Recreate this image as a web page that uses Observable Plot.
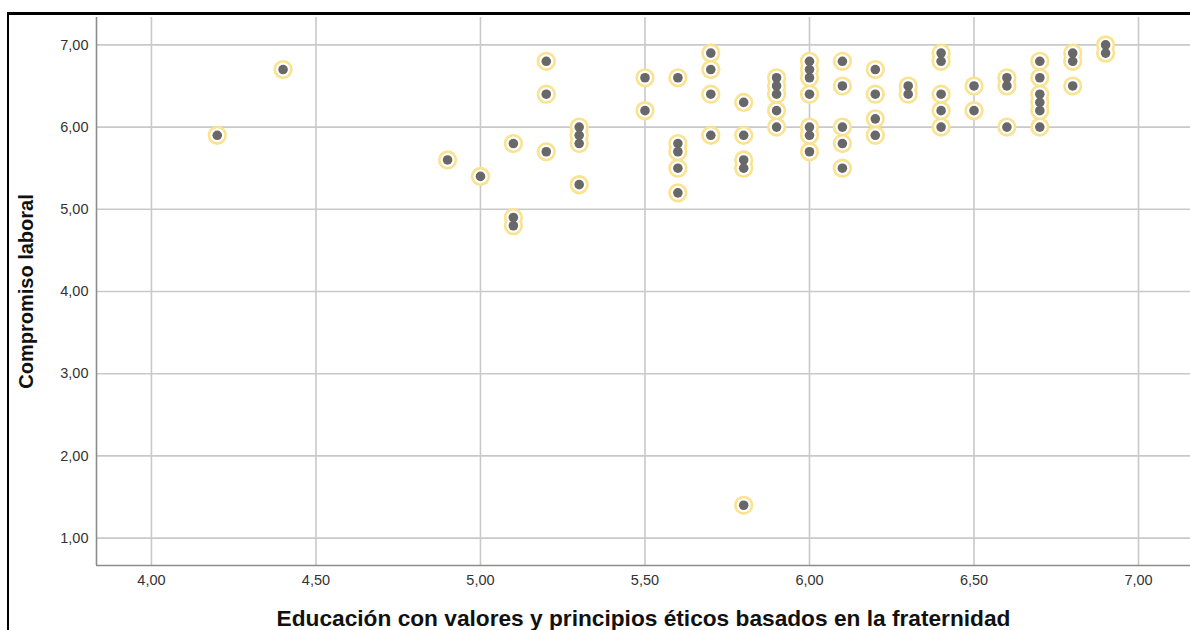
<!DOCTYPE html>
<html>
<head>
<meta charset="utf-8">
<script src="https://cdn.jsdelivr.net/npm/d3@7"></script>
<script src="https://cdn.jsdelivr.net/npm/@observablehq/plot@0.6"></script>
<style>
  html, body { margin: 0; padding: 0; background: #fff; width: 1190px; height: 630px; overflow: hidden; }
  #chart { position: absolute; left: 0; top: 0; }
  #frame { position: absolute; left: 7px; top: 12px; width: 1300px; height: 700px;
           border-top: 3px solid #000; border-left: 2px solid #000; pointer-events: none; }
</style>
</head>
<body>
<div id="chart"></div>
<div id="frame"></div>
<script>
// Axis titles
const xTitle = "Educación con valores y principios éticos basados en la fraternidad";
const yTitle = "Compromiso laboral";

// Tick values
const xTicks = [4.0, 4.5, 5.0, 5.5, 6.0, 6.5, 7.0];
const yTicks = [1, 2, 3, 4, 5, 6, 7];

// Scale extents (axes padded around the data range)
const xDomain = [3.833, 7.158];
const yDomain = [0.667, 7.333];

// Respondent scores: education-with-values score (x) and work commitment (y)
const educacion = [
  4.2,
  4.4,
  4.9,
  5.0,
  5.1, 5.1, 5.1,
  5.2, 5.2, 5.2,
  5.3, 5.3, 5.3, 5.3,
  5.5, 5.5,
  5.6, 5.6, 5.6, 5.6, 5.6,
  5.7, 5.7, 5.7, 5.7,
  5.8, 5.8, 5.8, 5.8, 5.8,
  5.9, 5.9, 5.9, 5.9, 5.9,
  6.0, 6.0, 6.0, 6.0, 6.0, 6.0, 6.0,
  6.1, 6.1, 6.1, 6.1, 6.1,
  6.2, 6.2, 6.2, 6.2,
  6.3, 6.3,
  6.4, 6.4, 6.4, 6.4, 6.4,
  6.5, 6.5,
  6.6, 6.6, 6.6,
  6.7, 6.7, 6.7, 6.7, 6.7, 6.7,
  6.8, 6.8, 6.8,
  6.9, 6.9
];
const compromiso = [
  5.9,
  6.7,
  5.6,
  5.4,
  5.8, 4.9, 4.8,
  6.8, 6.4, 5.7,
  6.0, 5.9, 5.8, 5.3,
  6.6, 6.2,
  6.6, 5.8, 5.7, 5.5, 5.2,
  6.9, 6.7, 6.4, 5.9,
  6.3, 5.9, 5.6, 5.5, 1.4,
  6.6, 6.5, 6.4, 6.2, 6.0,
  6.8, 6.7, 6.6, 6.4, 6.0, 5.9, 5.7,
  6.8, 6.5, 6.0, 5.8, 5.5,
  6.7, 6.4, 6.1, 5.9,
  6.5, 6.4,
  6.9, 6.8, 6.4, 6.2, 6.0,
  6.5, 6.2,
  6.6, 6.5, 6.0,
  6.8, 6.6, 6.4, 6.3, 6.2, 6.0,
  6.9, 6.8, 6.5,
  7.0, 6.9
];

const data = educacion.map((x, i) => ({x, y: compromiso[i]}));
const fmt = d => d.toFixed(2).replace(".", ",");

const chart = Plot.plot({
  width: 1190,
  height: 630,
  marginLeft: 96,
  marginRight: 0,
  marginTop: 17,
  marginBottom: 65,
  style: {background: "transparent", fontFamily: "'Liberation Sans', Arial, sans-serif", overflow: "visible"},
  x: {domain: xDomain, axis: null},
  y: {domain: yDomain, axis: null},
  marks: [
    Plot.gridX(xTicks, {stroke: "#c9c9c9", strokeOpacity: 1, strokeWidth: 1.6}),
    Plot.gridY(yTicks, {stroke: "#c9c9c9", strokeOpacity: 1, strokeWidth: 1.6}),
    Plot.ruleX([xDomain[0]], {stroke: "#8c8c8c", strokeWidth: 1.6}),
    Plot.ruleY([yDomain[0]], {stroke: "#8c8c8c", strokeWidth: 1.6}),
    // Tick labels
    Plot.text(xTicks, {x: d => d, text: fmt, frameAnchor: "bottom", lineAnchor: "top", dy: 9, fontSize: 14.5, fill: "#333"}),
    Plot.text(yTicks, {y: d => d, text: fmt, frameAnchor: "left", textAnchor: "end", lineAnchor: "middle", dx: -8, fontSize: 14.5, fill: "#333"}),
    // Marker: yellow halo, white gap, grey core (halos merge where points overlap)
    Plot.dot(data, {x: "x", y: "y", r: 9.6, fill: "#fae28e", stroke: "none"}),
    Plot.dot(data, {x: "x", y: "y", r: 7, fill: "#ffffff", stroke: "none"}),
    Plot.dot(data, {x: "x", y: "y", r: 4.8, fill: "#686868", stroke: "none"}),
    Plot.text([xTitle], {frameAnchor: "bottom", lineAnchor: "bottom", dy: 60, fontSize: 22.7, fontWeight: "bold", fill: "#111"}),
    Plot.text([yTitle], {frameAnchor: "left", textAnchor: "middle", rotate: -90, lineAnchor: "middle", dx: -70, fontSize: 20, fontWeight: "bold", fill: "#111"})
  ]
});
document.getElementById("chart").appendChild(chart);
</script>
</body>
</html>
